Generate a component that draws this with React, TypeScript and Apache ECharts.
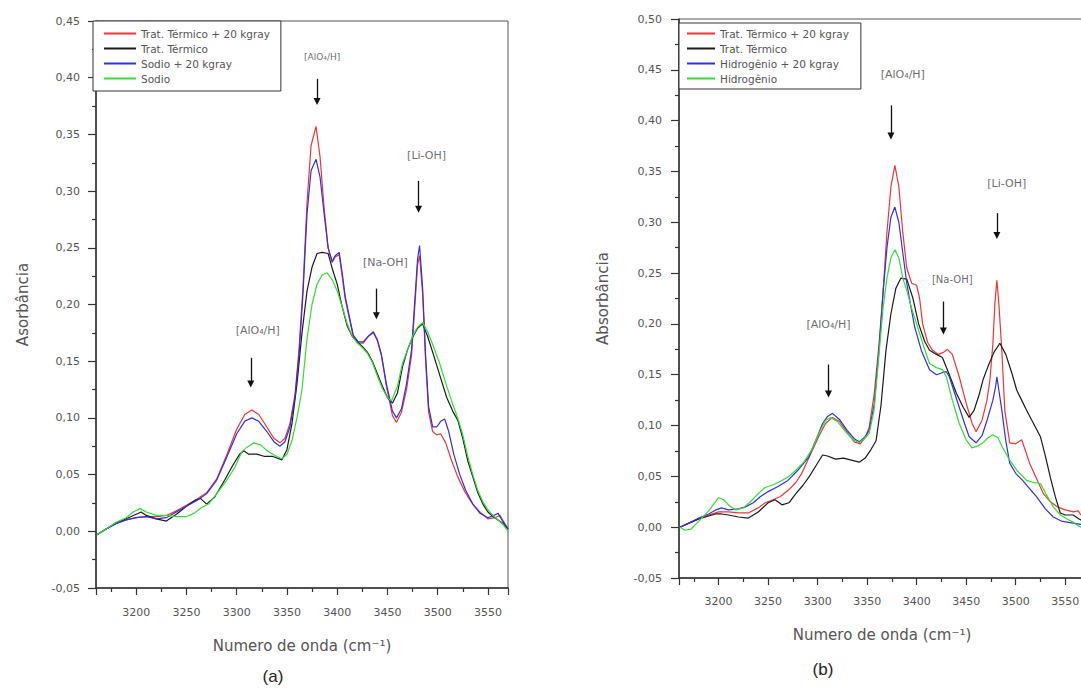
import React, { useEffect, useRef } from "react";
import * as echarts from "echarts";

// ---------- legend / series names ----------
const namesA = ["Trat. Térmico + 20 kgray", "Trat. Térmico", "Sodio + 20 kgray", "Sodio"];
const namesB = ["Trat. Térmico + 20 kgray", "Trat. Térmico", "Hidrogênio + 20 kgray", "Hidrogênio"];
const colors = ["#ee3535", "#1a1a1a", "#3030e0", "#33dd33"];

// ---------- panel (a) data: [wavenumber, absorbance] ----------
const redA = [[3161,-0.003],[3170,0.002],[3180,0.007],[3190,0.010],[3200,0.012],[3210,0.013],[3220,0.013],[3230,0.014],[3240,0.018],[3250,0.023],[3260,0.028],[3270,0.034],[3280,0.046],[3290,0.067],[3300,0.090],[3308,0.103],[3315,0.107],[3322,0.103],[3330,0.092],[3337,0.082],[3343,0.078],[3348,0.082],[3353,0.095],[3358,0.120],[3362,0.160],[3366,0.215],[3370,0.290],[3374,0.340],[3379,0.357],[3383,0.330],[3387,0.285],[3391,0.250],[3395,0.237],[3398,0.242],[3402,0.244],[3405,0.225],[3408,0.205],[3412,0.188],[3416,0.172],[3421,0.166],[3426,0.166],[3431,0.172],[3436,0.175],[3440,0.168],[3444,0.155],[3449,0.128],[3455,0.102],[3459,0.096],[3464,0.105],[3469,0.125],[3474,0.155],[3477,0.195],[3480,0.235],[3482,0.243],[3485,0.210],[3488,0.150],[3491,0.105],[3495,0.088],[3499,0.085],[3503,0.086],[3508,0.078],[3514,0.062],[3520,0.048],[3527,0.035],[3534,0.025],[3542,0.017],[3550,0.011],[3557,0.012],[3562,0.014],[3566,0.008],[3570,0.002]];
const blackA = [[3161,-0.003],[3170,0.002],[3180,0.007],[3190,0.011],[3200,0.015],[3205,0.017],[3210,0.014],[3220,0.011],[3230,0.009],[3240,0.015],[3250,0.022],[3258,0.027],[3264,0.029],[3270,0.024],[3278,0.030],[3288,0.045],[3296,0.058],[3303,0.068],[3307,0.071],[3312,0.068],[3320,0.068],[3328,0.066],[3336,0.066],[3345,0.063],[3350,0.072],[3355,0.095],[3360,0.130],[3365,0.175],[3370,0.212],[3375,0.233],[3380,0.245],[3385,0.246],[3391,0.245],[3395,0.232],[3400,0.218],[3405,0.198],[3410,0.181],[3415,0.172],[3420,0.167],[3425,0.163],[3430,0.158],[3435,0.150],[3440,0.139],[3445,0.128],[3450,0.118],[3455,0.113],[3460,0.122],[3465,0.145],[3470,0.160],[3475,0.171],[3480,0.179],[3485,0.183],[3490,0.172],[3495,0.158],[3502,0.138],[3509,0.118],[3515,0.106],[3520,0.098],[3525,0.082],[3530,0.062],[3535,0.048],[3540,0.034],[3545,0.024],[3550,0.017],[3555,0.013],[3560,0.010],[3565,0.007],[3570,0.002]];
const blueA = [[3161,-0.003],[3170,0.002],[3180,0.007],[3190,0.010],[3200,0.012],[3210,0.013],[3220,0.011],[3230,0.012],[3240,0.017],[3250,0.022],[3260,0.027],[3270,0.033],[3280,0.045],[3290,0.065],[3300,0.086],[3308,0.097],[3315,0.100],[3322,0.097],[3330,0.088],[3337,0.079],[3343,0.075],[3348,0.079],[3353,0.092],[3358,0.118],[3362,0.155],[3366,0.210],[3370,0.280],[3374,0.318],[3379,0.328],[3383,0.312],[3387,0.280],[3391,0.250],[3395,0.238],[3398,0.243],[3402,0.246],[3405,0.228],[3408,0.207],[3412,0.190],[3416,0.173],[3421,0.167],[3426,0.167],[3431,0.172],[3436,0.176],[3440,0.169],[3444,0.156],[3449,0.130],[3455,0.106],[3459,0.100],[3464,0.108],[3469,0.130],[3474,0.160],[3477,0.200],[3480,0.240],[3482,0.252],[3485,0.215],[3488,0.155],[3491,0.110],[3495,0.092],[3499,0.092],[3503,0.097],[3507,0.099],[3511,0.088],[3516,0.068],[3522,0.050],[3528,0.036],[3535,0.024],[3542,0.016],[3550,0.012],[3556,0.014],[3560,0.016],[3564,0.010],[3570,0.002]];
const greenA = [[3161,-0.003],[3170,0.002],[3180,0.008],[3190,0.012],[3197,0.017],[3204,0.020],[3210,0.017],[3220,0.014],[3230,0.014],[3240,0.013],[3250,0.013],[3258,0.016],[3265,0.021],[3272,0.024],[3280,0.033],[3290,0.045],[3298,0.056],[3305,0.070],[3310,0.074],[3317,0.078],[3324,0.076],[3332,0.070],[3340,0.066],[3345,0.064],[3350,0.068],[3355,0.080],[3360,0.100],[3365,0.125],[3370,0.170],[3375,0.200],[3380,0.218],[3385,0.226],[3390,0.228],[3395,0.222],[3400,0.212],[3405,0.198],[3410,0.183],[3415,0.172],[3420,0.166],[3425,0.162],[3430,0.157],[3435,0.149],[3440,0.137],[3445,0.126],[3450,0.118],[3454,0.115],[3460,0.128],[3465,0.148],[3470,0.160],[3475,0.172],[3480,0.180],[3485,0.184],[3490,0.176],[3495,0.165],[3502,0.148],[3509,0.128],[3515,0.112],[3520,0.100],[3525,0.085],[3530,0.066],[3535,0.050],[3540,0.036],[3545,0.026],[3550,0.019],[3555,0.014],[3560,0.010],[3565,0.006],[3570,0.000]];

// ---------- panel (b) data ----------
const redB = [[3161,0.000],[3170,0.004],[3180,0.008],[3190,0.012],[3200,0.015],[3210,0.015],[3220,0.014],[3230,0.014],[3240,0.019],[3247,0.024],[3255,0.027],[3262,0.030],[3270,0.036],[3278,0.044],[3284,0.053],[3292,0.070],[3301,0.089],[3308,0.102],[3315,0.108],[3322,0.104],[3330,0.093],[3337,0.084],[3343,0.082],[3348,0.088],[3352,0.098],[3357,0.130],[3362,0.180],[3366,0.230],[3370,0.290],[3374,0.335],[3378,0.356],[3382,0.335],[3386,0.290],[3390,0.255],[3395,0.240],[3400,0.238],[3403,0.225],[3406,0.200],[3411,0.182],[3416,0.174],[3422,0.170],[3427,0.172],[3431,0.175],[3436,0.170],[3443,0.148],[3450,0.122],[3456,0.102],[3460,0.094],[3466,0.105],[3471,0.125],[3474,0.145],[3477,0.181],[3479,0.220],[3481,0.243],[3483,0.220],[3486,0.174],[3489,0.115],[3494,0.083],[3500,0.082],[3506,0.086],[3510,0.075],[3514,0.063],[3520,0.050],[3528,0.033],[3535,0.025],[3542,0.020],[3550,0.017],[3558,0.015],[3563,0.016],[3566,0.012],[3570,0.008]];
const blackB = [[3161,0.000],[3170,0.004],[3180,0.008],[3190,0.011],[3197,0.013],[3203,0.013],[3210,0.012],[3220,0.010],[3230,0.009],[3240,0.015],[3250,0.024],[3257,0.027],[3264,0.022],[3271,0.024],[3278,0.033],[3285,0.041],[3291,0.049],[3298,0.060],[3305,0.071],[3310,0.070],[3318,0.067],[3326,0.068],[3334,0.066],[3342,0.064],[3348,0.068],[3353,0.075],[3359,0.085],[3364,0.120],[3369,0.174],[3374,0.210],[3379,0.235],[3384,0.245],[3390,0.244],[3396,0.226],[3402,0.200],[3408,0.183],[3413,0.174],[3420,0.170],[3426,0.167],[3433,0.150],[3440,0.132],[3447,0.118],[3453,0.108],[3458,0.115],[3463,0.130],[3467,0.145],[3472,0.158],[3478,0.172],[3484,0.181],[3490,0.170],[3496,0.152],[3501,0.135],[3506,0.125],[3511,0.115],[3518,0.102],[3525,0.089],[3530,0.070],[3535,0.049],[3540,0.030],[3545,0.014],[3550,0.012],[3558,0.012],[3564,0.008],[3570,0.005]];
const blueB = [[3161,0.000],[3170,0.004],[3180,0.009],[3190,0.013],[3197,0.017],[3203,0.019],[3210,0.017],[3220,0.018],[3227,0.020],[3235,0.024],[3242,0.030],[3250,0.035],[3260,0.040],[3270,0.046],[3280,0.056],[3291,0.069],[3298,0.085],[3305,0.102],[3310,0.109],[3315,0.112],[3322,0.106],[3330,0.095],[3337,0.087],[3342,0.084],[3347,0.088],[3352,0.095],[3357,0.120],[3362,0.175],[3366,0.230],[3370,0.275],[3374,0.305],[3378,0.315],[3382,0.300],[3386,0.270],[3390,0.240],[3394,0.218],[3398,0.197],[3405,0.173],[3413,0.155],[3420,0.150],[3426,0.152],[3430,0.153],[3433,0.148],[3438,0.133],[3443,0.118],[3448,0.103],[3453,0.089],[3460,0.083],[3466,0.090],[3471,0.105],[3477,0.125],[3480,0.140],[3481,0.148],[3483,0.135],[3486,0.115],[3490,0.085],[3494,0.063],[3500,0.053],[3507,0.046],[3514,0.038],[3521,0.030],[3530,0.018],[3538,0.010],[3546,0.006],[3558,0.004],[3570,0.002]];
const greenB = [[3161,0.000],[3166,-0.003],[3172,-0.002],[3180,0.006],[3190,0.016],[3196,0.024],[3200,0.029],[3205,0.027],[3211,0.021],[3217,0.017],[3225,0.019],[3232,0.025],[3240,0.033],[3247,0.039],[3256,0.042],[3264,0.046],[3271,0.050],[3278,0.056],[3286,0.064],[3294,0.076],[3301,0.092],[3308,0.105],[3313,0.108],[3320,0.104],[3328,0.094],[3336,0.086],[3342,0.083],[3347,0.087],[3352,0.092],[3357,0.115],[3362,0.170],[3366,0.215],[3370,0.245],[3374,0.265],[3378,0.273],[3382,0.265],[3386,0.245],[3390,0.233],[3395,0.215],[3400,0.200],[3407,0.178],[3413,0.161],[3420,0.157],[3426,0.155],[3430,0.148],[3436,0.125],[3443,0.102],[3450,0.086],[3456,0.078],[3462,0.080],[3467,0.083],[3472,0.088],[3477,0.091],[3482,0.088],[3487,0.078],[3494,0.066],[3502,0.055],[3511,0.046],[3518,0.044],[3525,0.043],[3531,0.032],[3538,0.020],[3545,0.012],[3552,0.008],[3558,0.005],[3562,0.002],[3570,-0.002]];

// ---------- annotations (data coordinates) ----------
const annA = [
  { text: "[AlO₄/H]", x: 3380, top: 0.399, bottom: 0.379, lx: 3385, ly: 0.418, size: 9 },
  { text: "[Li-OH]", x: 3481, top: 0.309, bottom: 0.284, lx: 3489, ly: 0.331, size: 11 },
  { text: "[Na-OH]", x: 3439, top: 0.214, bottom: 0.190, lx: 3448, ly: 0.237, size: 11 },
  { text: "[AlO₄/H]", x: 3314, top: 0.153, bottom: 0.130, lx: 3321, ly: 0.177, size: 11 },
];
const annB = [
  { text: "[AlO₄/H]", x: 3374, top: 0.415, bottom: 0.385, lx: 3386, ly: 0.445, size: 11 },
  { text: "[Li-OH]", x: 3481, top: 0.309, bottom: 0.287, lx: 3491, ly: 0.338, size: 11 },
  { text: "[Na-OH]", x: 3427, top: 0.222, bottom: 0.193, lx: 3436, ly: 0.244, size: 10 },
  { text: "[AlO₄/H]", x: 3311, top: 0.160, bottom: 0.131, lx: 3311, ly: 0.199, size: 11 },
];

const X_MIN = 3160;
const X_MAX = 3570;
const FONT = "DejaVu Sans";

const fmtY = (v: number) => (Math.abs(v) < 1e-9 ? "0,00" : v.toFixed(2).replace(".", ","));

function xAxis(gridIndex: number, gap: number, margin: number) {
  return {
    type: "value",
    gridIndex,
    min: X_MIN,
    max: X_MAX,
    splitNumber: 8,
    axisLine: { show: true, onZero: false, lineStyle: { color: "#333", width: 1.5 } },
    axisTick: { show: true, inside: false, length: 7, lineStyle: { color: "#333", width: 1.2 } },
    minorTick: { show: true, splitNumber: 2, length: 4, lineStyle: { color: "#333", width: 1.2 } },
    splitLine: { show: false },
    axisLabel: {
      showMinLabel: false,
      showMaxLabel: false,
      color: "#555",
      fontSize: 11,
      fontFamily: FONT,
      margin,
      formatter: (v: number) => (v % 50 === 0 ? String(v) : ""),
    },
    name: "Numero de onda (cm⁻¹)",
    nameLocation: "middle",
    nameGap: gap,
    nameTextStyle: { color: "#555", fontSize: 15, fontFamily: FONT },
  };
}

function yAxis(gridIndex: number, max: number, name: string, gap: number, margin: number) {
  return {
    type: "value",
    gridIndex,
    min: -0.05,
    max,
    interval: 0.05,
    axisLine: { show: true, onZero: false, lineStyle: { color: "#333", width: 1.5 } },
    axisTick: { show: true, inside: false, length: 8, lineStyle: { color: "#333", width: 1.2 } },
    minorTick: { show: true, splitNumber: 2, length: 4, lineStyle: { color: "#333", width: 1.2 } },
    splitLine: { show: false },
    axisLabel: { color: "#555", fontSize: 11, fontFamily: FONT, margin, formatter: fmtY },
    name,
    nameLocation: "middle",
    nameRotate: 90,
    nameGap: gap,
    nameTextStyle: { color: "#555", fontSize: 15, fontFamily: FONT },
  };
}

function lineSeries(name: string, data: number[][], color: string, idx: number) {
  return {
    type: "line",
    name,
    data,
    xAxisIndex: idx,
    yAxisIndex: idx,
    showSymbol: false,
    symbol: "none",
    lineStyle: { color, width: 1.2 },
    itemStyle: { color },
    silent: true,
    z: 3,
  };
}

function annSeries(ann: typeof annA, idx: number) {
  return {
    type: "scatter",
    name: "ann" + idx,
    xAxisIndex: idx,
    yAxisIndex: idx,
    symbolSize: 0,
    silent: true,
    data: ann.map((a) => ({
      name: a.text,
      value: [a.lx, a.ly],
      label: { fontSize: a.size },
    })),
    label: {
      show: true,
      position: "inside",
      formatter: "{b}",
      color: "#444",
      fontFamily: FONT,
    },
    markLine: {
      silent: true,
      symbol: ["none", "triangle"],
      symbolSize: 7,
      label: { show: false },
      lineStyle: { color: "#111", width: 1.3, type: "solid" },
      emphasis: { disabled: true },
      animation: false,
      data: ann.map((a) => [{ coord: [a.x, a.top] }, { coord: [a.x, a.bottom] }]),
    },
    z: 5,
  };
}

function legend(left: number, top: number, data: string[], padding: number[], itemWidth: number) {
  return {
    left,
    top,
    orient: "vertical",
    data,
    selectedMode: false,
    borderColor: "#333",
    borderWidth: 1,
    backgroundColor: "#fff",
    padding,
    itemWidth,
    itemHeight: 12,
    itemGap: 4,
    itemStyle: { opacity: 0 },
    textStyle: { fontSize: 10.5, fontFamily: FONT, color: "#555" },
    z: 10,
  };
}

export default function App() {
  const ref = useRef<HTMLDivElement>(null);
  useEffect(() => {
    if (!ref.current) return;
    const chart = echarts.init(ref.current, undefined, { renderer: "svg" });
    const seriesA = [redA, blackA, blueA, greenA].map((d, i) => lineSeries(namesA[i], d, colors[i], 0));
    const seriesB = [redB, blackB, blueB, greenB].map((d, i) => lineSeries(namesB[i], d, colors[i], 1));
    chart.setOption({
      animation: false,
      backgroundColor: "#fff",
      grid: [
        { left: 96, top: 21, width: 412, height: 567, show: true, borderColor: "#555", borderWidth: 1, backgroundColor: "transparent" },
        { left: 679, top: 19, width: 406, height: 559, show: true, borderColor: "#555", borderWidth: 1, backgroundColor: "transparent" },
      ],
      xAxis: [xAxis(0, 50, 19), xAxis(1, 49, 18)],
      yAxis: [yAxis(0, 0.45, "Asorbância", 66, 16), yAxis(1, 0.5, "Absorbância", 69, 17)],
      legend: [
        legend(93, 21, namesA, [7, 11, 7, 10], 32),
        legend(679, 23, namesB, [5, 12, 5, 7], 28),
      ],
      series: [...seriesA, ...seriesB, annSeries(annA, 0), annSeries(annB, 1)],
      graphic: [
        { type: "text", x: 273, y: 676, style: { text: "(a)", fontSize: 17, fontFamily: "Liberation Sans", fill: "#222", align: "center", verticalAlign: "middle" } },
        { type: "text", x: 823, y: 669, style: { text: "(b)", fontSize: 17, fontFamily: "Liberation Sans", fill: "#222", align: "center", verticalAlign: "middle" } },
      ],
    });
    return () => chart.dispose();
  }, []);
  return (
    <div style={{ position: "fixed", left: 0, top: 0, width: 1081, height: 689, overflow: "hidden", background: "#fff" }}>
      <div ref={ref} style={{ width: 1100, height: 689 }} />
    </div>
  );
}
